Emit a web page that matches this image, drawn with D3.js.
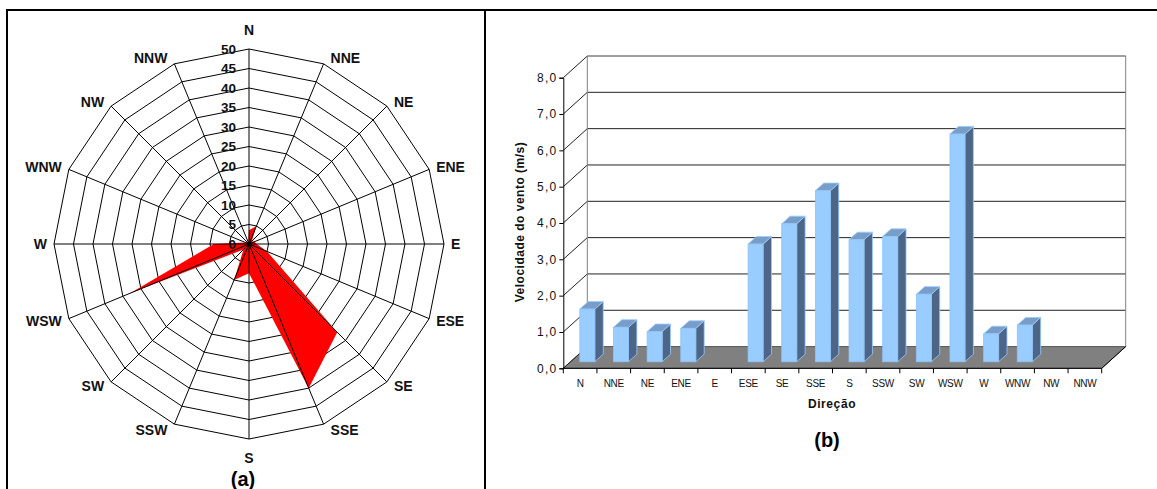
<!DOCTYPE html>
<html>
<head>
<meta charset="utf-8">
<script src="https://cdn.jsdelivr.net/npm/d3@7"></script>
<style>
  body { margin: 0; background: #fff; }
  svg { font-family: "Liberation Sans", Arial, sans-serif; }
</style>
</head>
<body>
<div id="chart"></div>
<script>
// direction labels (same order in both charts)
const DIRS = ["N", "NNE", "NE", "ENE", "E", "ESE", "SE", "SSE", "S", "SSW", "SW", "WSW", "W", "WNW", "NW", "NNW"];
// (a) frequency by direction (%)
const FREQ = [3.5, 5, 1, 1.5, 2, 5, 32, 40, 7.5, 10, 2, 33, 9, 1, 0.5, 0.5];
const RING_TICKS = [0, 5, 10, 15, 20, 25, 30, 35, 40, 45, 50];
// (b) mean wind speed by direction (m/s)
const SPEED = [1.45, 0.95, 0.83, 0.92, 0, 3.24, 3.8, 4.71, 3.36, 3.45, 1.86, 6.27, 0.77, 1.01, 0, 0];
const SPEED_TICKS = [0, 1, 2, 3, 4, 5, 6, 7, 8];

const W = 1157, H = 489;
const svg = d3.select("#chart").append("svg")
    .attr("width", W)
    .attr("height", H);

// outer frame + divider
const frame = svg.append("g").attr("stroke", "#000").attr("stroke-width", 2);
frame.append("line").attr("x1", 6).attr("x2", W).attr("y1", 10).attr("y2", 10);
frame.append("line").attr("x1", 7).attr("x2", 7).attr("y1", 10).attr("y2", H);
frame.append("line").attr("x1", 485).attr("x2", 485).attr("y1", 10).attr("y2", H);

// ---------------- (a) radar ----------------
const CX = 249, CY = 244, R = 195;
const rScale = d3.scaleLinear().domain([0, 50]).range([0, R]);
const angle = d3.scaleLinear().domain([0, DIRS.length]).range([0, 2 * Math.PI]);
const pt = (i, v) => [CX + rScale(v) * Math.sin(angle(i)), CY - rScale(v) * Math.cos(angle(i))];

const radar = svg.append("g");

// rings
radar.append("g").selectAll("polygon")
    .data(RING_TICKS.filter(d => d > 0))
    .enter().append("polygon")
    .attr("points", v => DIRS.map((d, i) => pt(i, v).join(",")).join(" "))
    .attr("fill", "none")
    .attr("stroke", "#000")
    .attr("stroke-width", 1);

// data polygon
const radial = d3.lineRadial()
    .angle((d, i) => angle(i))
    .radius(d => rScale(d))
    .curve(d3.curveLinearClosed);
radar.append("path")
    .attr("transform", `translate(${CX},${CY})`)
    .attr("d", radial(FREQ))
    .attr("fill", "#ff0000");

// spokes
radar.append("g").selectAll("line")
    .data(DIRS)
    .enter().append("line")
    .attr("x1", CX).attr("y1", CY)
    .attr("x2", (d, i) => pt(i, 50)[0])
    .attr("y2", (d, i) => pt(i, 50)[1])
    .attr("stroke", "#000")
    .attr("stroke-width", 1);

// direction labels, set just outside each outer vertex
const side = i => Math.abs(Math.sin(angle(i))) < 1e-6 ? 0 : Math.sign(Math.sin(angle(i)));
radar.append("g").selectAll("text")
    .data(DIRS)
    .enter().append("text")
    .attr("x", (d, i) => pt(i, 50)[0] + side(i) * 7)
    .attr("y", (d, i) => pt(i, 50)[1] - (side(i) === 0 ? 19 : 6) * Math.cos(angle(i)))
    .attr("dy", "0.35em")
    .attr("text-anchor", (d, i) => side(i) === 0 ? "middle" : side(i) > 0 ? "start" : "end")
    .attr("font-size", 14)
    .attr("font-weight", "bold")
    .attr("fill", "#111")
    .text(d => d);

// ring values
radar.append("g").selectAll("text")
    .data(RING_TICKS)
    .enter().append("text")
    .attr("x", 236)
    .attr("y", d => CY - rScale(d))
    .attr("dy", "0.35em")
    .attr("text-anchor", "end")
    .attr("font-size", 13.5)
    .attr("font-weight", "bold")
    .attr("fill", "#111")
    .text(d => d);

svg.append("text")
    .attr("x", 243).attr("y", 486)
    .attr("text-anchor", "middle")
    .attr("font-size", 20)
    .attr("font-weight", "bold")
    .text("(a)");

// ---------------- (b) 3D column chart ----------------
const X0 = 563.3, X1 = 1101.7, Y0 = 368.3, Y8 = 77.7;
const DX = 24, DY = -21.7;           // depth vector of the floor/walls
const x = d3.scaleBand().domain(DIRS).range([X0, X1]);
const y = d3.scaleLinear().domain([0, 8]).range([Y0, Y8]);
const bars = svg.append("g");

// floor
bars.append("polygon")
    .attr("points", [[X0, Y0], [X1, Y0], [X1 + DX, Y0 + DY], [X0 + DX, Y0 + DY]].join(" "))
    .attr("fill", "#808080")
    .attr("stroke", "#555")
    .attr("stroke-width", 1);

// back wall gridlines
bars.append("g").selectAll("line")
    .data(SPEED_TICKS.filter(d => d > 0))
    .enter().append("line")
    .attr("x1", X0 + DX).attr("x2", X1 + DX)
    .attr("y1", d => y(d) + DY).attr("y2", d => y(d) + DY)
    .attr("stroke", d => d === 8 ? "#808080" : "#222")
    .attr("stroke-width", 1);

// side wall diagonals
bars.append("g").selectAll("line")
    .data(SPEED_TICKS)
    .enter().append("line")
    .attr("x1", X0).attr("x2", X0 + DX)
    .attr("y1", d => y(d)).attr("y2", d => y(d) + DY)
    .attr("stroke", "#222")
    .attr("stroke-width", 1);

// wall borders
bars.append("path")
    .attr("d", `M${X0 + DX},${y(0) + DY}V${y(8) + DY}H${X1 + DX}V${y(0) + DY}`)
    .attr("fill", "none")
    .attr("stroke", "#808080")
    .attr("stroke-width", 1);

// front edge of floor (category axis)
bars.append("path")
    .attr("d", `M${X0},${Y0}H${X1}L${X1 + DX},${Y0 + DY}`)
    .attr("fill", "none")
    .attr("stroke", "#000")
    .attr("stroke-width", 1);

// y axis
const yAxis = d3.axisLeft(y)
    .tickValues(SPEED_TICKS)
    .tickSize(4)
    .tickPadding(2)
    .tickFormat(d => d3.format(".1f")(d).replace(".", ","));
bars.append("g")
    .attr("transform", `translate(${X0},0)`)
    .call(yAxis)
    .call(g => g.selectAll("text")
        .attr("font-size", 12)
        .attr("letter-spacing", 1.2)
        .attr("fill", "#111")
        .style("font-family", "Liberation Sans, Arial, sans-serif"))
    .call(g => g.selectAll("line,path").attr("stroke", "#000"));

// x category ticks + labels
const bw = x.bandwidth();
bars.append("g").selectAll("line")
    .data(DIRS.concat(["_end"]))
    .enter().append("line")
    .attr("x1", (d, i) => X0 + i * bw).attr("x2", (d, i) => X0 + i * bw)
    .attr("y1", Y0).attr("y2", Y0 + 5)
    .attr("stroke", "#000");
bars.append("g").selectAll("text")
    .data(DIRS)
    .enter().append("text")
    .attr("x", d => x(d) + bw / 2)
    .attr("y", 387)
    .attr("text-anchor", "middle")
    .attr("font-size", 10)
    .attr("letter-spacing", -0.3)
    .attr("fill", "#111")
    .text(d => d);

// columns
const Z0 = 0.3, Z1 = 0.65, BW = 15;
const colG = bars.append("g").selectAll("g")
    .data(DIRS.map((d, i) => ({ dir: d, v: SPEED[i] })).filter(d => d.v > 0))
    .enter().append("g");
colG.each(function (d) {
    const g = d3.select(this);
    const fx = x(d.dir) + bw / 2 - BW / 2 + Z0 * DX;
    const fyB = y(0) + Z0 * DY;
    const fyT = y(d.v) + Z0 * DY;
    const ox = (Z1 - Z0) * DX, oy = (Z1 - Z0) * DY;
    // side
    g.append("polygon")
        .attr("points", [[fx + BW, fyB], [fx + BW, fyT], [fx + BW + ox, fyT + oy], [fx + BW + ox, fyB + oy]].join(" "))
        .attr("fill", "#4d6586").attr("stroke", "#99ccff").attr("stroke-width", 0.8);
    // top
    g.append("polygon")
        .attr("points", [[fx, fyT], [fx + BW, fyT], [fx + BW + ox, fyT + oy], [fx + ox, fyT + oy]].join(" "))
        .attr("fill", "#779dc8").attr("stroke", "#99ccff").attr("stroke-width", 0.8);
    // front
    g.append("rect")
        .attr("x", fx).attr("y", fyT)
        .attr("width", BW).attr("height", fyB - fyT)
        .attr("fill", "#99ccff").attr("stroke", "#8ec2f5").attr("stroke-width", 0.8);
});

// axis titles
svg.append("text")
    .attr("transform", "translate(524,222) rotate(-90)")
    .attr("text-anchor", "middle")
    .attr("font-size", 12)
    .attr("letter-spacing", 0.5)
    .attr("font-weight", "bold")
    .attr("fill", "#111")
    .text("Velocidade do vento (m/s)");
svg.append("text")
    .attr("x", 832).attr("y", 408)
    .attr("text-anchor", "middle")
    .attr("font-size", 12)
    .attr("letter-spacing", 0.6)
    .attr("font-weight", "bold")
    .attr("fill", "#111")
    .text("Direção");
svg.append("text")
    .attr("x", 827).attr("y", 447)
    .attr("text-anchor", "middle")
    .attr("font-size", 20)
    .attr("font-weight", "bold")
    .text("(b)");
</script>
</body>
</html>
